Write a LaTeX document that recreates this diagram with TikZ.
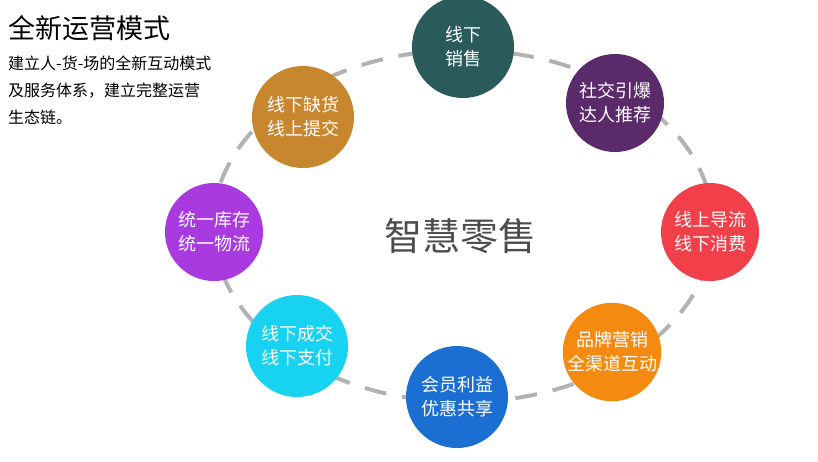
\documentclass[tikz,border=0pt]{standalone}
\usepackage{fontspec}
\setmainfont{Noto Sans CJK SC}
\begin{document}
\begin{tikzpicture}[x=1pt,y=-1pt,
    bubble/.style={circle, minimum size=102pt, inner sep=0pt, text=white, font=\fontsize{18}{24}\selectfont, align=center},
    ring/.style={draw=gray!60, line width=4pt, dash pattern=on 22pt off 16pt}]
\useasboundingbox (0,0) rectangle (818,461);
\definecolor{cteal}{HTML}{2A5A5C}
\definecolor{cplum}{HTML}{5A2A6A}
\definecolor{cred}{HTML}{F2404A}
\definecolor{corange}{HTML}{F58A10}
\definecolor{cblue}{HTML}{1C6FD2}
\definecolor{ccyan}{HTML}{18D2F2}
\definecolor{cviolet}{HTML}{A83AE0}
\definecolor{cbrown}{HTML}{C8862E}

\draw[ring] (463,226) ellipse (250pt and 176pt);

\node[bubble, fill=cteal] (sale) at (463,47) {线下\\销售};
\node[bubble, fill=cplum, minimum size=98pt] (social) at (615,103) {社交引爆\\达人推荐};
\node[bubble, fill=cred, minimum size=98pt] (flow) at (710,232) {线上导流\\线下消费};
\node[bubble, fill=corange, minimum size=98pt] (brand) at (612,352) {品牌营销\\全渠道互动};
\node[bubble, fill=cblue] (member) at (457,397) {会员利益\\优惠共享};
\node[bubble, fill=ccyan] (pay) at (297,346) {线下成交\\线下支付};
\node[bubble, fill=cviolet, minimum size=98pt] (stock) at (214,232) {统一库存\\统一物流};
\node[bubble, fill=cbrown] (order) at (303,117) {线下缺货\\线上提交};

\node[text=black!70, font=\fontsize{38}{42}\selectfont] (core) at (460,236) {智慧零售};

\node[anchor=north west, inner sep=0pt, font=\fontsize{27}{30}\selectfont] (title) at (8,15) {全新运营模式};
\node[anchor=north west, inner sep=0pt, align=left, font=\fontsize{16}{27}\selectfont] (desc) at (8,56)
  {建立人-货-场的全新互动模式\\及服务体系，建立完整运营\\生态链。};
\end{tikzpicture}
\end{document}
